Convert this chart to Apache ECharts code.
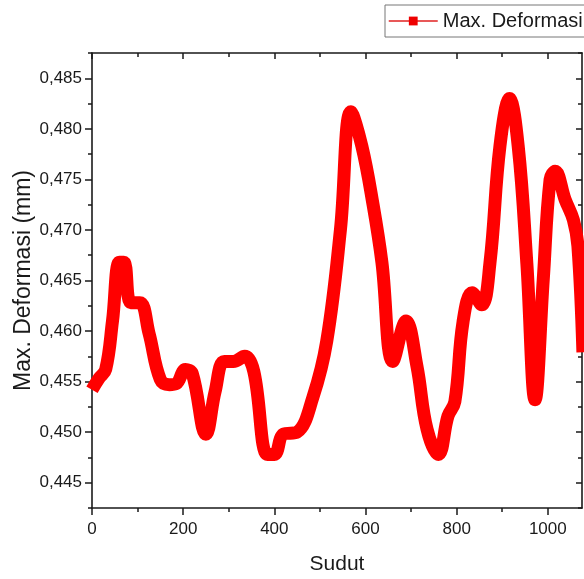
<!DOCTYPE html>
<html>
<head>
<meta charset="utf-8">
<script src="https://cdn.jsdelivr.net/npm/echarts@6/dist/echarts.min.js"></script>
<style>html,body{margin:0;padding:0;background:#fff;}#c{width:584px;height:579px;}</style>
</head>
<body>
<div id="c"></div>
<script>
// Data
const sudut = [0, 15, 30, 45, 60, 70, 85, 105, 125, 150, 170, 185, 205, 220, 250, 270, 290, 310, 335, 355, 385, 400, 420, 450, 485, 515, 545, 568, 592, 617, 636, 660, 689, 713, 735, 760, 781, 796, 814, 834, 855, 873, 895, 916, 935, 954, 972, 990, 1005, 1016, 1038, 1056, 1066, 1077];
const maxDeformasi = [0.4542, 0.4553, 0.4562, 0.4610, 0.4668, 0.4668, 0.4628, 0.4628, 0.4598, 0.4552, 0.4547, 0.4548, 0.4562, 0.4558, 0.4498, 0.4540, 0.4570, 0.4570, 0.4575, 0.4560, 0.4478, 0.4478, 0.4498, 0.4500, 0.4535, 0.4590, 0.4700, 0.4817, 0.4783, 0.4724, 0.4668, 0.4570, 0.4610, 0.4565, 0.4503, 0.4478, 0.4516, 0.4530, 0.4609, 0.4638, 0.4626, 0.4667, 0.4783, 0.4830, 0.4783, 0.4667, 0.4532, 0.4651, 0.4750, 0.4758, 0.4730, 0.4710, 0.4684, 0.4579];
const xMajorTicks = [0, 200, 400, 600, 800, 1000];
const xMinorTicks = [100, 300, 500, 700, 900];
const yMajorTicks = [0.445, 0.450, 0.455, 0.460, 0.465, 0.470, 0.475, 0.480, 0.485];
const yMinorTicks = [0.4425, 0.4475, 0.4525, 0.4575, 0.4625, 0.4675, 0.4725, 0.4775, 0.4825, 0.4875];
const seriesName = 'Max. Deformasi';

const FONT = "'Liberation Sans', Arial, sans-serif";
const AX = '#1a1a1a';
const XMIN = 0, XMAX = 1075, YMIN = 0.4425, YMAX = 0.4875;

function xAx(pos, ticks, len, inside, withLine, labels) {
  return {
    type: 'value', position: pos, min: XMIN, max: XMAX,
    splitLine: { show: false },
    axisLine: { show: withLine, onZero: false, lineStyle: { color: AX, width: 1.6 } },
    axisTick: { show: true, inside: inside, length: len, customValues: ticks, lineStyle: { color: AX, width: 1.5 } },
    axisLabel: labels ? { show: true, customValues: xMajorTicks, margin: 13, fontSize: 17, fontFamily: FONT, color: AX,
      formatter: v => String(v) } : { show: false }
  };
}
function yAx(pos, ticks, len, inside, withLine, labels) {
  return {
    type: 'value', position: pos, min: YMIN, max: YMAX,
    splitLine: { show: false },
    axisLine: { show: withLine, onZero: false, lineStyle: { color: AX, width: 1.6 } },
    axisTick: { show: true, inside: inside, length: len, customValues: ticks, lineStyle: { color: AX, width: 1.5 } },
    axisLabel: labels ? { show: true, customValues: yMajorTicks, margin: 10, fontSize: 17, fontFamily: FONT, color: AX,
      formatter: v => v.toFixed(3).replace('.', ',') } : { show: false }
  };
}

const xAxes = [
  Object.assign(xAx('bottom', xMajorTicks, 7, false, true, true), {
    name: 'Sudut', nameLocation: 'middle', nameGap: 46, nameMoveOverlap: false,
    nameTextStyle: { fontSize: 21, fontFamily: FONT, color: AX }
  }),
  xAx('bottom', xMinorTicks, 4, false, false, false),
  xAx('top', xMajorTicks, 6, true, true, false),
  xAx('top', xMinorTicks, 4, true, false, false)
];
const yAxes = [
  Object.assign(yAx('left', yMajorTicks, 7, false, true, true), {
    name: 'Max. Deformasi (mm)', nameLocation: 'middle', nameGap: 57, nameMoveOverlap: false,
    nameTextStyle: { fontSize: 23, fontFamily: FONT, color: AX }
  }),
  yAx('left', yMinorTicks, 4, false, false, false),
  yAx('right', yMajorTicks, 6, true, true, false),
  yAx('right', yMinorTicks, 4, true, false, false)
];

const chart = echarts.init(document.getElementById('c'), null, { renderer: 'canvas' });
chart.setOption({
  animation: false,
  backgroundColor: '#fff',
  grid: { left: 92, right: 2, top: 53, bottom: 71, containLabel: false, outerBoundsMode: 'none' },
  legend: {
    show: true, left: 385, top: 5,
    padding: [6, 8, 6, 3],
    borderColor: '#777', borderWidth: 1,
    itemWidth: 49, itemHeight: 11, itemGap: 5,
    textStyle: { fontSize: 20, fontFamily: FONT, color: AX },
    lineStyle: { width: 1.5, color: '#e02020' },
    itemStyle: { color: '#ee0000' },
    data: [seriesName]
  },
  xAxis: xAxes,
  yAxis: yAxes,
  series: [{
    name: seriesName, type: 'line', xAxisIndex: 0, yAxisIndex: 0,
    data: sudut.map((x, i) => [x, maxDeformasi[i]]),
    smooth: 0.4, symbol: 'rect', symbolSize: 9, showSymbol: false,
    lineStyle: { color: '#ff0000', width: 13, join: 'round', cap: 'butt' },
    itemStyle: { color: '#ff0000' },
    clip: true
  }]
});
</script>
</body>
</html>
